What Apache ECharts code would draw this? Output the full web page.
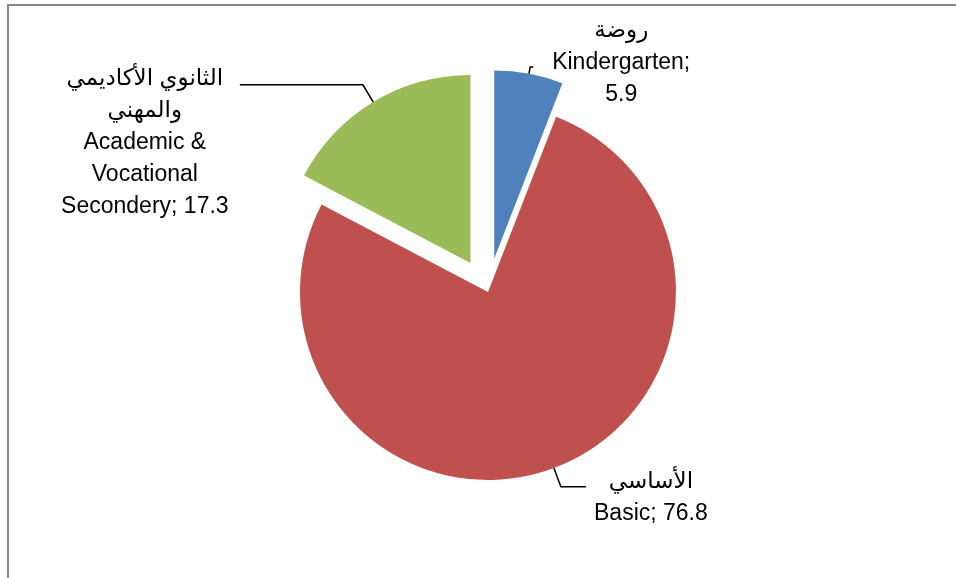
<!DOCTYPE html>
<html>
<head>
<meta charset="utf-8">
<script src="https://cdn.jsdelivr.net/npm/echarts@6/dist/echarts.min.js"></script>
<style>
  html, body { margin: 0; padding: 0; background: #fff; }
  #chart { position: absolute; left: 0; top: 0; width: 956px; height: 578px; }
  #frame { position: absolute; left: 7px; top: 4px; width: 1000px; height: 700px; border: 2px solid #898989; pointer-events: none; }
</style>
</head>
<body>
<div id="chart"></div>
<div id="frame"></div>
<script>
const namesAr = [['روضة'], ['الأساسي'], ['الثانوي الأكاديمي', 'والمهني']]
const namesEn = [['Kindergarten;'], ['Basic;'], ['Academic &', 'Vocational', 'Secondery;']]
const values = [5.9, 76.8, 17.3]
const exploded = [true, false, true]
const colors = ['#4f81bd', '#c0504d', '#9bbb59']

// label styling per slice: leader lengths, block width, padding
const labelStyle = [
  { len: 7, len2: 3, width: 166, padding: [0, 0, 8, 0], valueOwnLine: true },
  { len: 20, len2: 25, width: 120, padding: [22, 0, 0, 0], valueOwnLine: false },
  { len: 20, len2: 123, width: 180, padding: [116, 0, 0, 0], valueOwnLine: false }
]

function labelText (i) {
  const lines = namesAr[i].concat(namesEn[i])
  if (labelStyle[i].valueOwnLine) {
    lines.push(String(values[i]))
  } else {
    lines[lines.length - 1] += ' ' + values[i]
  }
  return lines.map(s => '{c|' + s + '}').join('\n')
}

function initChart () {
  const dom = echarts.init(document.getElementById('chart'))
  const option = {
    animation: false,
    series: [{
      type: 'pie',
      center: [488, 292],
      radius: 188,
      startAngle: 90,
      clockwise: true,
      selectedMode: 'multiple',
      selectedOffset: 34,
      avoidLabelOverlap: false,
      emphasis: { scale: false },
      label: {
        show: true,
        position: 'outside',
        alignTo: 'none',
        distanceToLabelLine: 5,
        color: '#000',
        fontSize: 23,
        lineHeight: 32,
        fontFamily: 'Liberation Sans, DejaVu Sans, sans-serif'
      },
      labelLine: {
        show: true,
        lineStyle: { color: '#000', width: 1.5 }
      },
      itemStyle: {
        color: function (params) {
          return colors[params.dataIndex]
        }
      },
      data: values.map((v, i) => ({
        value: v,
        name: namesEn[i].join(' '),
        selected: exploded[i],
        label: {
          formatter: labelText(i),
          padding: labelStyle[i].padding,
          rich: {
            c: {
              width: labelStyle[i].width,
              align: 'center',
              color: '#000',
              fontSize: 23,
              lineHeight: 32,
              fontFamily: 'Liberation Sans, DejaVu Sans, sans-serif'
            }
          }
        },
        labelLine: {
          length: labelStyle[i].len,
          length2: labelStyle[i].len2
        }
      }))
    }]
  }
  dom.setOption(option)
}

initChart()
</script>
</body>
</html>
